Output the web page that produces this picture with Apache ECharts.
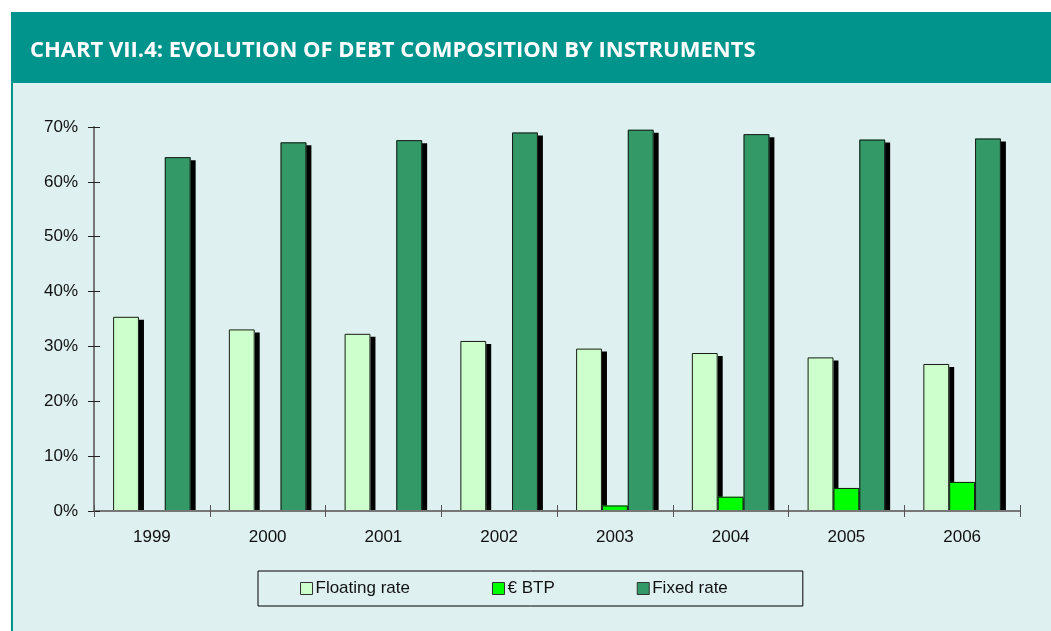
<!DOCTYPE html>
<html>
<head>
<meta charset="utf-8">
<script src="https://cdn.jsdelivr.net/npm/echarts@6/dist/echarts.min.js"></script>
<style>
html,body{margin:0;padding:0;background:#fff;}
#c{width:1051px;height:631px;}
</style>
</head>
<body>
<div id="c"></div>
<script>
var categories = ['1999','2000','2001','2002','2003','2004','2005','2006'];
var floatingRate = [35.4, 33.1, 32.3, 31.0, 29.6, 28.8, 28.0, 26.8];
var btp = [0, 0, 0, 0, 1.0, 2.6, 4.2, 5.3];
var fixedRate = [64.5, 67.2, 67.6, 69.0, 69.5, 68.7, 67.7, 67.9];
var seriesNames = ['Floating rate', '€ BTP', 'Fixed rate'];
var seriesColors = ['#ccffcc', '#00ff00', '#339966'];
var yTicks = {min: 0, max: 70, interval: 10};

var chart = echarts.init(document.getElementById('c'), null, {renderer: 'canvas'});
var font = 'Liberation Sans, Arial, sans-serif';
var allData = [floatingRate, btp, fixedRate];
function clean(arr) { return arr.map(function (v) { return v === 0 ? '-' : v; }); }

var series = [];
// shadow layer (no border) on axis 0
allData.forEach(function (arr, i) {
  series.push({
    name: seriesNames[i], type: 'bar', xAxisIndex: 0, yAxisIndex: 0,
    data: clean(arr), barCategoryGap: '33%', barGap: '0%', z: 2,
    itemStyle: {color: seriesColors[i], borderWidth: 0, shadowColor: '#000', shadowBlur: 0, shadowOffsetX: 5, shadowOffsetY: 3}
  });
});
// outlined layer (no shadow) on axis 1
allData.forEach(function (arr, i) {
  series.push({
    name: seriesNames[i], type: 'bar', xAxisIndex: 1, yAxisIndex: 0,
    data: clean(arr), barCategoryGap: '33%', barGap: '0%', z: 3,
    itemStyle: {color: seriesColors[i], borderColor: '#1a1a1a', borderWidth: 1}
  });
});

var option = {
  backgroundColor: '#ffffff',
  animation: false,
  graphic: [
    {type: 'rect', z: -10, silent: true, shape: {x: 11, y: 12, width: 1040, height: 71}, style: {fill: '#00948d'}},
    {type: 'rect', z: -10, silent: true, shape: {x: 11, y: 83, width: 1040, height: 548}, style: {fill: '#def0ef'}},
    {type: 'rect', z: -9, silent: true, shape: {x: 11, y: 83, width: 2, height: 548}, style: {fill: '#00948d'}},
    {type: 'rect', z: 5, silent: true, shape: {x: 96, y: 512, width: 930, height: 4}, style: {fill: '#def0ef'}}
  ],
  title: {
    text: 'CHART VII.4: EVOLUTION OF DEBT COMPOSITION BY INSTRUMENTS',
    left: 30,
    top: 40,
    padding: 0,
    textStyle: {color: '#ffffff', fontFamily: 'Open Sans, DejaVu Sans, sans-serif', fontWeight: 'bold', fontSize: 22}
  },
  legend: {
    data: seriesNames,
    left: 258,
    top: 571,
    padding: [9, 75, 9, 42],
    itemGap: 82,
    itemWidth: 12,
    itemHeight: 12,
    icon: 'rect',
    borderColor: '#000',
    borderWidth: 1,
    itemStyle: {borderColor: '#333', borderWidth: 1, shadowBlur: 0, shadowOffsetX: 0, shadowOffsetY: 0, shadowColor: 'transparent'},
    textStyle: {fontFamily: font, fontSize: 17, color: '#111', padding: [0, 0, 0, -2]}
  },
  grid: {left: 94, right: 31, top: 127, bottom: 120, containLabel: false},
  xAxis: [{
    type: 'category',
    data: categories,
    position: 'bottom',
    axisLine: {lineStyle: {color: '#777', width: 2}},
    axisTick: {show: true, length: 6, lineStyle: {color: '#555', width: 1}},
    axisLabel: {fontFamily: font, fontSize: 17, color: '#111', margin: 18},
    z: 10
  }, {
    type: 'category',
    data: categories,
    position: 'bottom',
    axisLine: {show: false},
    axisTick: {show: true, inside: true, length: 6, lineStyle: {color: '#555', width: 1}},
    axisLabel: {show: false},
    z: 10
  }],
  yAxis: [{
    type: 'value',
    min: yTicks.min, max: yTicks.max, interval: yTicks.interval,
    axisLine: {show: true, lineStyle: {color: '#777', width: 2}},
    axisTick: {show: true, length: 6, lineStyle: {color: '#222', width: 1}},
    splitLine: {show: false},
    axisLabel: {fontFamily: font, fontSize: 17, color: '#111', margin: 16, formatter: '{value}%'},
    z: 10
  }, {
    type: 'value',
    position: 'left',
    min: yTicks.min, max: yTicks.max, interval: yTicks.interval,
    axisLine: {show: false},
    axisTick: {show: true, inside: true, length: 6, lineStyle: {color: '#222', width: 1}},
    splitLine: {show: false},
    axisLabel: {show: false},
    z: 10
  }],
  series: series
};
chart.setOption(option);
</script>
</body>
</html>
